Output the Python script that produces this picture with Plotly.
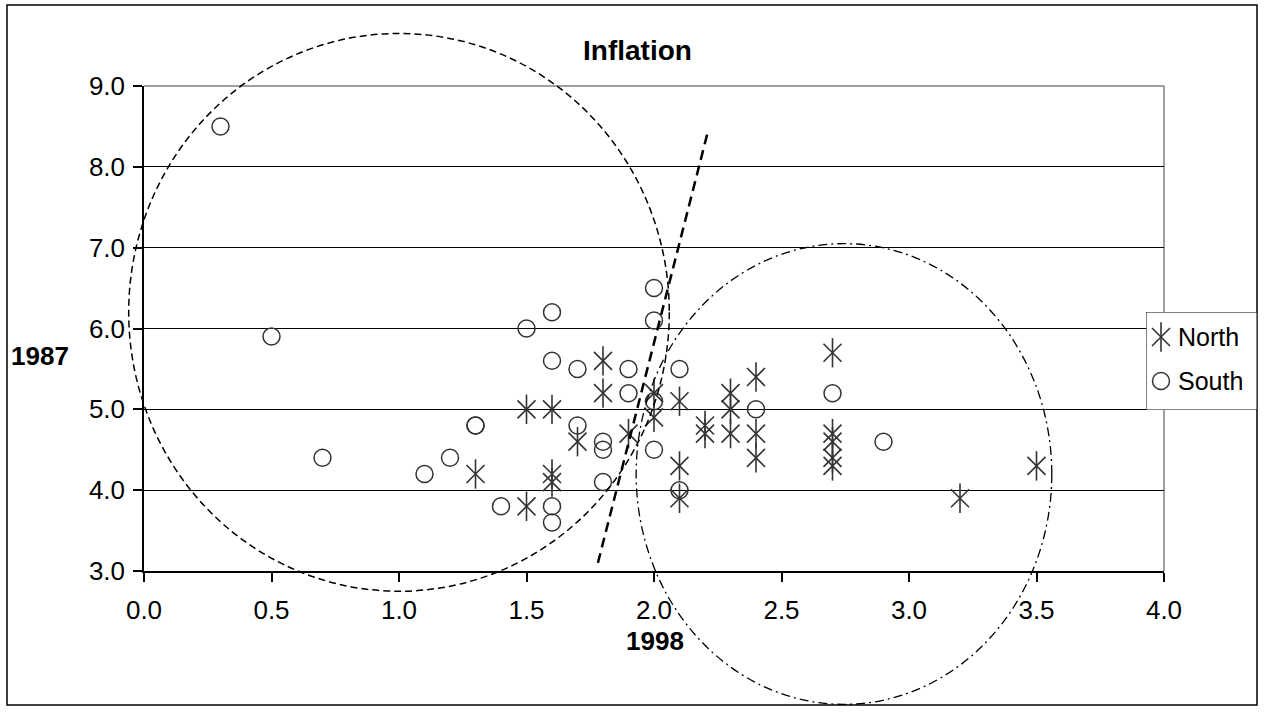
import plotly.graph_objects as go

# ---------------- data ----------------
north_x = [1.3, 1.5, 1.5, 1.6, 1.6, 1.6, 1.7, 1.8, 1.8, 1.9, 2.0, 2.0, 2.1, 2.1, 2.1,
           2.2, 2.2, 2.3, 2.3, 2.3, 2.4, 2.4, 2.4, 2.7, 2.7, 2.7, 2.7, 2.7, 3.2, 3.5]
north_y = [4.2, 5.0, 3.8, 5.0, 4.2, 4.1, 4.6, 5.6, 5.2, 4.7, 5.2, 4.9, 5.1, 4.3, 3.9,
           4.8, 4.7, 5.2, 5.0, 4.7, 5.4, 4.7, 4.4, 5.7, 4.7, 4.6, 4.4, 4.3, 3.9, 4.3]

south_x = [0.3, 0.5, 0.7, 1.1, 1.2, 1.3, 1.3, 1.4, 1.5, 1.6, 1.6, 1.6, 1.6, 1.7, 1.7,
           1.8, 1.8, 1.8, 1.9, 1.9, 2.0, 2.0, 2.0, 2.0, 2.1, 2.1, 2.4, 2.7, 2.9]
south_y = [8.5, 5.9, 4.4, 4.2, 4.4, 4.8, 4.8, 3.8, 6.0, 6.2, 5.6, 3.8, 3.6, 5.5, 4.8,
           4.6, 4.5, 4.1, 5.5, 5.2, 6.5, 6.1, 5.1, 4.5, 5.5, 4.0, 5.0, 5.2, 4.6]

series_names = ["North", "South"]
x_ticks = [0.0, 0.5, 1.0, 1.5, 2.0, 2.5, 3.0, 3.5, 4.0]
y_ticks = [3.0, 4.0, 5.0, 6.0, 7.0, 8.0, 9.0]
title_text = "Inflation"
x_title = "1998"
y_title = "1987"

# hand-drawn annotation overlays (data units)
ellipse_left = dict(cx=1.0, cy=6.2, rx=1.06, ry=3.45)
ellipse_right = dict(cx=2.745, cy=4.2, rx=0.815, ry=2.85)
divider = dict(x0=1.78, y0=3.1, x1=2.21, y1=8.42)

# ---------------- layout geometry ----------------
W, H = 1266, 713
ML, MR, MT, MB = 144, 9, 86, 142
PW = W - ML - MR
PH = H - MT - MB
plot_right = 1164
xr = [0.0, 4.0]
yr = [3.0, 9.0]


def px(xpix):
    return (xpix - ML) / PW


def py(ypix):
    return (H - MB - ypix) / PH


def dx(v):
    return (v - xr[0]) / (xr[1] - xr[0])


def dy(v):
    return (v - yr[0]) / (yr[1] - yr[0])


FONT = "Liberation Sans, Arial, sans-serif"
MCOL = "#333333"
TICK_SIZE = 26

fig = go.Figure()

star_x = dict(symbol="x-thin-open", size=18, color=MCOL, line=dict(color=MCOL, width=1.6))
star_v = dict(symbol="line-ns-open", size=21, color=MCOL, line=dict(color=MCOL, width=1.6))
circ = dict(symbol="circle-open", size=17, color=MCOL, line=dict(color=MCOL, width=1.5))

# North: 6-armed asterisk = x-thin + vertical line
fig.add_trace(go.Scatter(x=north_x, y=north_y, mode="markers", name=series_names[0],
                         showlegend=False, marker=star_x, xaxis="x", yaxis="y", cliponaxis=False))
fig.add_trace(go.Scatter(x=north_x, y=north_y, mode="markers", name=series_names[0],
                         showlegend=False, marker=star_v, xaxis="x", yaxis="y", cliponaxis=False))
fig.add_trace(go.Scatter(x=south_x, y=south_y, mode="markers", name=series_names[1],
                         showlegend=False, marker=circ, xaxis="x", yaxis="y", cliponaxis=False))

# manual legend in its own small subplot
lg_x0, lg_x1, lg_y0, lg_y1 = 1146, 1257, 312, 410
fig.add_trace(go.Scatter(x=[0, 1, 1, 0, 0], y=[0, 0, 1, 1, 0], mode="lines",
                         fill="toself", fillcolor="white",
                         line=dict(color="black", width=1),
                         xaxis="x2", yaxis="y2", showlegend=False, hoverinfo="skip"))
leg_mx = (1161 - lg_x0) / (lg_x1 - lg_x0)
leg_y_n = (lg_y1 - 337) / (lg_y1 - lg_y0)
leg_y_s = (lg_y1 - 381) / (lg_y1 - lg_y0)
fig.add_trace(go.Scatter(x=[leg_mx], y=[leg_y_n], mode="markers", showlegend=False,
                         marker=star_x, xaxis="x2", yaxis="y2", cliponaxis=False))
fig.add_trace(go.Scatter(x=[leg_mx], y=[leg_y_n], mode="markers", showlegend=False,
                         marker=star_v, xaxis="x2", yaxis="y2", cliponaxis=False))
fig.add_trace(go.Scatter(x=[leg_mx], y=[leg_y_s], mode="markers", showlegend=False,
                         marker=circ, xaxis="x2", yaxis="y2", cliponaxis=False))

annotations = []
leg_tx = (1176 - lg_x0) / (lg_x1 - lg_x0)
for name, yy in zip(series_names, [leg_y_n, leg_y_s]):
    annotations.append(dict(x=leg_tx, y=yy, xref="x2", yref="y2", text=name,
                            showarrow=False, xanchor="left", yanchor="middle",
                            font=dict(family=FONT, size=25, color="black")))

# title and axis titles
annotations.append(dict(x=px(637), y=py(50), xref="paper", yref="paper", text="<b>%s</b>" % title_text,
                        showarrow=False, xanchor="center", yanchor="middle",
                        font=dict(family=FONT, size=28, color="black")))
annotations.append(dict(x=px(655), y=py(641), xref="paper", yref="paper", text="<b>%s</b>" % x_title,
                        showarrow=False, xanchor="center", yanchor="middle",
                        font=dict(family=FONT, size=26, color="black")))
annotations.append(dict(x=px(40), y=py(356), xref="paper", yref="paper", text="<b>%s</b>" % y_title,
                        showarrow=False, xanchor="center", yanchor="middle",
                        font=dict(family=FONT, size=26, color="black")))

shapes = []
# plot area border (top & right, gray)
shapes.append(dict(type="line", xref="paper", yref="paper", x0=0, x1=px(plot_right), y0=1, y1=1,
                   line=dict(color="#808080", width=1.5), layer="above"))
shapes.append(dict(type="line", xref="paper", yref="paper", x0=px(plot_right), x1=px(plot_right), y0=0, y1=1,
                   line=dict(color="#808080", width=1.5), layer="below"))
# outer chart border
shapes.append(dict(type="rect", xref="paper", yref="paper", x0=px(7), x1=px(1257), y0=py(705), y1=py(5),
                   line=dict(color="black", width=1.5), layer="below"))
# hand-drawn ellipses (domain refs so they are not clipped)
for e, dash, wid in [(ellipse_left, "7px,4px", 1.5), (ellipse_right, "9px,4px,2px,4px", 1.3)]:
    shapes.append(dict(type="circle", xref="x domain", yref="y domain",
                       x0=dx(e["cx"] - e["rx"]), x1=dx(e["cx"] + e["rx"]),
                       y0=dy(e["cy"] - e["ry"]), y1=dy(e["cy"] + e["ry"]),
                       line=dict(color="black", width=wid, dash=dash), layer="above"))
shapes.append(dict(type="line", xref="x", yref="y", x0=divider["x0"], y0=divider["y0"],
                   x1=divider["x1"], y1=divider["y1"],
                   line=dict(color="black", width=2.5, dash="10px,6px"), layer="above"))

fig.update_layout(
    width=W, height=H, autosize=False,
    margin=dict(l=ML, r=MR, t=MT, b=MB, pad=0),
    paper_bgcolor="white", plot_bgcolor="white",
    showlegend=False,
    font=dict(family=FONT, size=TICK_SIZE, color="black"),
    xaxis=dict(domain=[0, px(plot_right)], range=xr, tickvals=x_ticks,
               ticktext=["%.1f" % v for v in x_ticks],
               showgrid=False, zeroline=False, showline=True, linecolor="black", linewidth=1.5,
               ticks="outside", ticklen=9, tickwidth=1.5, tickcolor="black",
               ticklabelstandoff=6, automargin=False,
               tickfont=dict(family=FONT, size=TICK_SIZE, color="black"), anchor="y"),
    yaxis=dict(domain=[0, 1], range=yr, tickvals=y_ticks,
               ticktext=["%.1f" % v for v in y_ticks],
               showgrid=True, gridcolor="black", gridwidth=1,
               zeroline=False, showline=True, linecolor="black", linewidth=1.5,
               ticks="outside", ticklen=9, tickwidth=1.5, tickcolor="black",
               ticklabelstandoff=3, automargin=False,
               tickfont=dict(family=FONT, size=TICK_SIZE, color="black"), anchor="x"),
    xaxis2=dict(domain=[px(lg_x0), px(lg_x1)], range=[0, 1], visible=False, anchor="y2",
                fixedrange=True),
    yaxis2=dict(domain=[py(lg_y1), py(lg_y0)], range=[0, 1], visible=False, anchor="x2",
                fixedrange=True),
    annotations=annotations,
    shapes=shapes,
)

post = (
    "document.documentElement.style.overflow='hidden';"
    "document.body.style.overflow='hidden';"
    "document.body.style.margin='0';"
    "var gd=document.getElementById('{plot_id}');"
    "Plotly.relayout(gd,{width:%d,height:%d});" % (W, H)
)
fig.write_html("out.html", config={"displayModeBar": False, "responsive": False},
               post_script=post)
